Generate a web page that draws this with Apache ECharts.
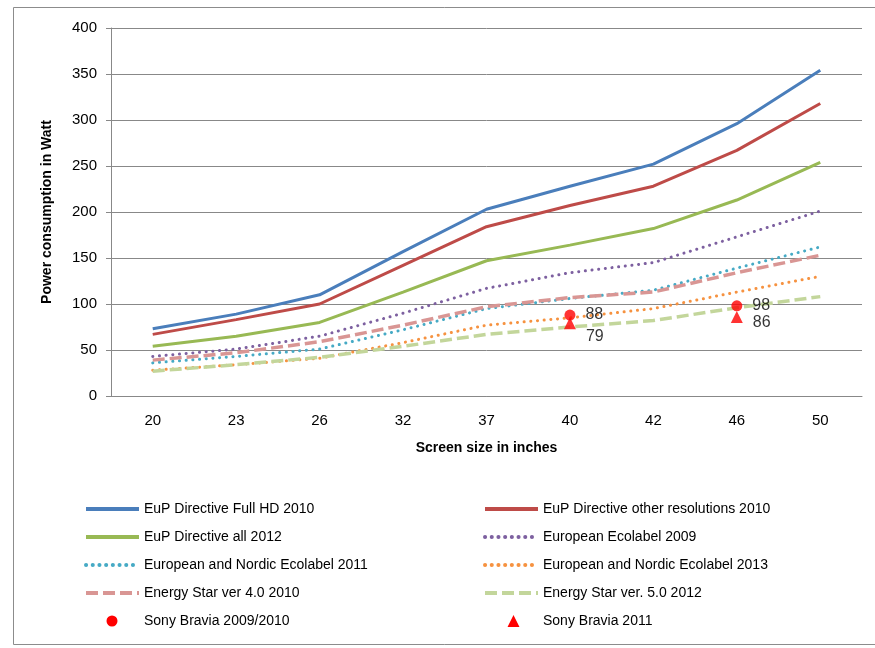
<!DOCTYPE html>
<html>
<head>
<meta charset="utf-8">
<script src="https://cdn.jsdelivr.net/npm/echarts@6/dist/echarts.min.js"></script>
<style>
html,body{margin:0;padding:0;background:#fff;}
#chart{width:875px;height:648px;}
</style>
</head>
<body>
<div id="chart"></div>
<script>
var categories = ['20','23','26','32','37','40','42','46','50'];
var eupFullHD2010 = [73, 89, 110, 157, 203, 228, 252, 296, 354];
var eupOther2010 = [67, 83, 100, 142, 184, 207, 228, 267, 318];
var eupAll2012 = [54, 65, 80, 113, 147, 164, 182, 213, 254];
var ecolabel2009 = [43, 51, 65, 90, 117, 134, 145, 173, 201];
var nordic2011 = [36, 43, 51, 72, 95, 106, 115, 139, 162];
var nordic2013 = [28, 34, 41, 58, 77, 85, 95, 113, 130];
var energyStar4 = [39, 47, 59, 77, 97, 107, 113, 134, 153];
var energyStar5 = [27, 34, 42, 54, 67, 75, 82, 96, 108];
var sony2009 = [null, null, null, null, null, 88, null, 98, null];
var sony2011 = [null, null, null, null, null, 79, null, 86, null];
var yTicks = [0, 50, 100, 150, 200, 250, 300, 350, 400];

var FONT = 'Liberation Sans';
var chart = echarts.init(document.getElementById('chart'), null, {renderer: 'canvas'});

function lineSeries(name, data, color, type, width) {
  var ls = {color: color, width: width, type: type};
  if (type === 'dotted') { ls.type = [0.1, 6.6]; ls.cap = 'round'; }
  if (type === 'dashed') { ls.type = [12, 5]; ls.cap = 'butt'; }
  return {
    name: name, type: 'line', data: data, symbol: 'none', showSymbol: false,
    lineStyle: ls, itemStyle: {color: color}, emphasis: {disabled: true}, z: 2
  };
}

var labelStyle = {show: true, fontFamily: FONT, fontSize: 16, color: '#000', position: 'right', distance: 10};

var series = [
  lineSeries('EuP Directive Full HD 2010', eupFullHD2010, '#4A7EBB', 'solid', 3),
  lineSeries('EuP Directive other resolutions 2010', eupOther2010, '#BE4B48', 'solid', 3),
  lineSeries('EuP Directive all 2012', eupAll2012, '#98B954', 'solid', 3),
  lineSeries('European Ecolabel 2009', ecolabel2009, '#7D60A0', 'dotted', 3),
  lineSeries('European and Nordic Ecolabel 2011', nordic2011, '#46AAC5', 'dotted', 3),
  lineSeries('European and Nordic Ecolabel 2013', nordic2013, '#F69240', 'dotted', 3),
  lineSeries('Energy Star ver 4.0 2010', energyStar4, '#D99694', 'dashed', 3.5),
  lineSeries('Energy Star ver. 5.0 2012', energyStar5, '#C3D69B', 'dashed', 3.5),
  {
    name: 'Sony Bravia 2009/2010', type: 'scatter', data: sony2009.slice(),
    symbol: 'circle', symbolSize: 11, itemStyle: {color: '#FF0000'}, z: 5,
    label: labelStyle, emphasis: {disabled: true}
  },
  {
    name: 'Sony Bravia 2011', type: 'scatter',
    data: sony2011.map(function(v, i){
      if (v === null) return null;
      var off = i === 5 ? [0, 13] : [0, 6];
      return {value: v, label: {offset: off}};
    }),
    symbol: 'triangle', symbolSize: 12, itemStyle: {color: '#FF0000'}, z: 4,
    label: labelStyle, emphasis: {disabled: true}
  }
];

var legendCommon = {
  orient: 'vertical', top: 502, itemWidth: 53, itemHeight: 14, itemGap: 14,
  textStyle: {fontFamily: FONT, fontSize: 14, color: '#000'}, selectedMode: false,
  padding: 0, itemStyle: {opacity: 0}, lineStyle: {width: 4}
};
var redVisible = {color: '#FF0000', opacity: 1};
var triPath = 'path://M0,0L0.001,0L0,0.001Z M28.5,1L34.5,13L22.5,13Z M53,14L52.999,14L53,13.999Z';
var circPath = 'path://M0,0L0.001,0L0,0.001Z M31.5,7A5.5,5.5,0,1,1,20.5,7A5.5,5.5,0,1,1,31.5,7Z M53,14L52.999,14L53,13.999Z';

chart.setOption({
  animation: false,
  backgroundColor: '#fff',
  graphic: [{
    type: 'rect', shape: {x: 13.5, y: 7.5, width: 880, height: 637},
    style: {fill: 'none', stroke: '#8c8c8c', lineWidth: 1}, silent: true, z: -1
  }],
  grid: {left: 111, right: 13, top: 28, bottom: 252, containLabel: false},
  legend: [
    Object.assign({}, legendCommon, {left: 84,
      data: ['EuP Directive Full HD 2010', 'EuP Directive all 2012', 'European and Nordic Ecolabel 2011', 'Energy Star ver 4.0 2010',
             {name: 'Sony Bravia 2009/2010', icon: circPath, itemStyle: redVisible}]}),
    Object.assign({}, legendCommon, {left: 483,
      data: ['EuP Directive other resolutions 2010', 'European Ecolabel 2009', 'European and Nordic Ecolabel 2013', 'Energy Star ver. 5.0 2012',
             {name: 'Sony Bravia 2011', icon: triPath, itemStyle: redVisible}]})
  ],
  xAxis: {
    type: 'category', data: categories, boundaryGap: true,
    name: 'Screen size in inches', nameLocation: 'middle', nameGap: 45,
    nameTextStyle: {fontFamily: FONT, fontSize: 14, fontWeight: 'bold', color: '#000'},
    axisLine: {show: true, lineStyle: {color: '#888', width: 1}},
    axisTick: {show: false},
    axisLabel: {fontFamily: FONT, fontSize: 15, color: '#000', margin: 17}
  },
  yAxis: {
    type: 'value', min: 0, max: 400, interval: 50,
    name: 'Power consumption in Watt', nameLocation: 'middle', nameGap: 57, nameRotate: 90,
    nameTextStyle: {fontFamily: FONT, fontSize: 14, fontWeight: 'bold', color: '#000'},
    axisLine: {show: true, lineStyle: {color: '#888', width: 1}},
    axisTick: {show: true, inside: false, length: 5, lineStyle: {color: '#888'}},
    splitLine: {show: true, lineStyle: {color: '#888', width: 1}},
    axisLabel: {fontFamily: FONT, fontSize: 15, color: '#000', margin: 14,
      formatter: function(v){ return yTicks.indexOf(v) >= 0 ? String(v) : ''; }}
  },
  series: series
});
</script>
</body>
</html>
